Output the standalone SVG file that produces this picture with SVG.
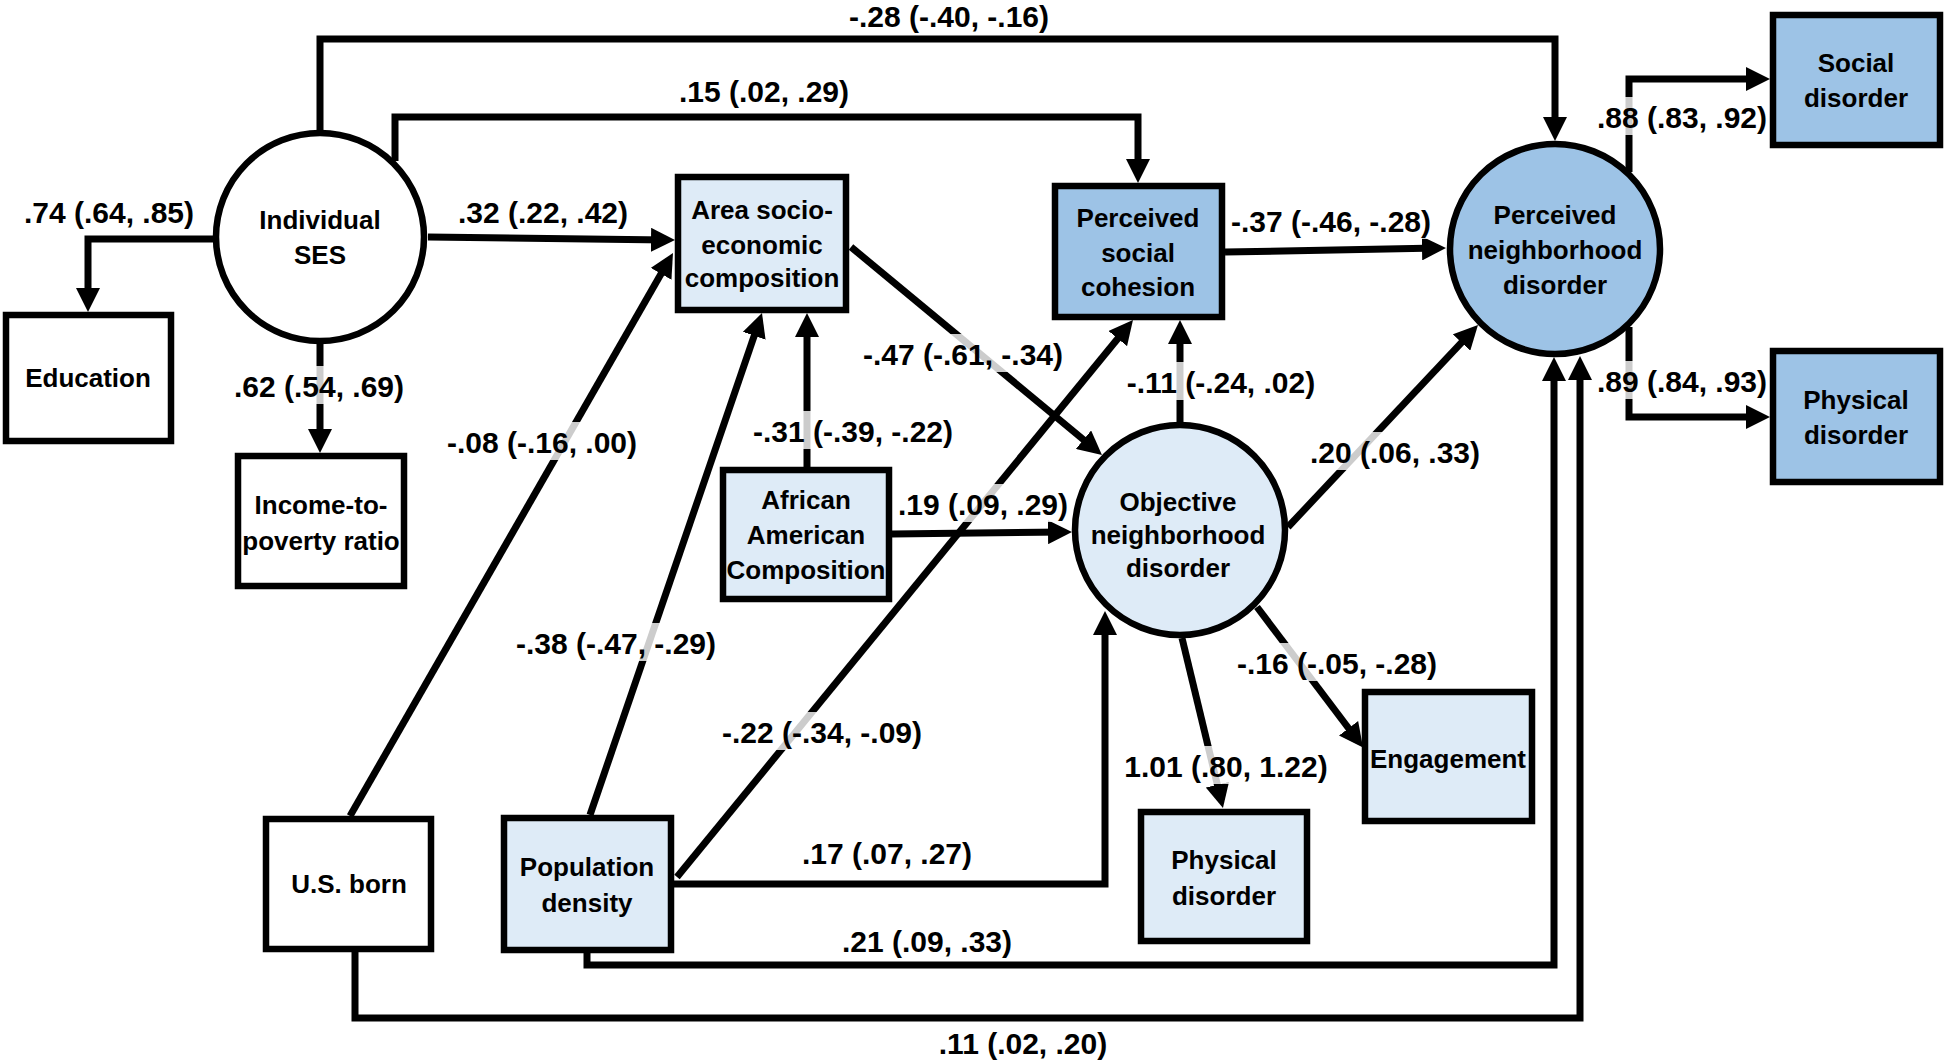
<svg xmlns="http://www.w3.org/2000/svg" width="1946" height="1062" viewBox="0 0 1946 1062">
<style>
.bg{fill:#fff}
.ln{fill:none;stroke:#000;stroke-width:7;stroke-linejoin:miter}
.arr{marker-end:url(#ah)}
.box{stroke:#000;stroke-width:6.5}
.w{fill:#fff}
.lb{fill:#DEEBF7}
.mb{fill:#9DC3E6}
.nt{font-family:"Liberation Sans",Arial,sans-serif;font-weight:bold;font-size:26px;text-anchor:middle;fill:#000}
.et{font-family:"Liberation Sans",Arial,sans-serif;font-weight:bold;font-size:30px;text-anchor:middle;fill:#000}
.halo{fill:#fff;fill-opacity:0.8}
</style>
<defs>
<marker id="ah" markerUnits="userSpaceOnUse" viewBox="0 0 24 24" markerWidth="24" markerHeight="24" refX="16" refY="12" orient="auto">
<path d="M0,0 L24,12 L0,24 z" fill="#000"/>
</marker>
</defs>
<rect class="bg" x="0" y="0" width="1946" height="1062"/>

<g id="connectors">
<path class="ln arr" d="M214,239 H88 V304"/>
<path class="ln arr" d="M320,344 V445"/>
<path class="ln arr" d="M428,237 L667,240"/>
<path class="ln arr" d="M395,161 V117 H1138 V175"/>
<path class="ln arr" d="M320,131 V39 H1555 V133"/>
<path class="ln arr" d="M350,816 L669,260"/>
<path class="ln arr" d="M590,815 L759.4,320.6"/>
<path class="ln arr" d="M807,467 V321"/>
<path class="ln arr" d="M892,534 L1064,532"/>
<path class="ln arr" d="M851,247 L1095.8,449.9"/>
<path class="ln arr" d="M677,877 L1127.9,326.2"/>
<path class="ln arr" d="M1180,423 V328"/>
<path class="ln arr" d="M674,884 H1105 V619"/>
<path class="ln arr" d="M1225,252 L1438,248.1"/>
<path class="ln arr" d="M1288,527 L1472.5,330.8"/>
<path class="ln arr" d="M1182,638 L1221.1,800.2"/>
<path class="ln arr" d="M1257,607 L1358.2,741"/>
<path class="ln arr" d="M587,950 V965 H1554 V365"/>
<path class="ln arr" d="M355,950 V1018 H1580 V364"/>
<path class="ln arr" d="M1629,172 V79 H1762"/>
<path class="ln arr" d="M1629,327 V417 H1762"/>
</g>

<g id="edge-labels">
<text class="et" x="949" y="27">-.28 (-.40, -.16)</text>
<text class="et" x="764" y="102">.15 (.02, .29)</text>
<text class="et" x="109" y="223">.74 (.64, .85)</text>
<text class="et" x="543" y="223">.32 (.22, .42)</text>
<rect class="halo" x="234" y="366" width="170" height="38"/>
<text class="et" x="319" y="397">.62 (.54, .69)</text>
<rect class="halo" x="446" y="422" width="192" height="38"/>
<text class="et" x="542" y="453">-.08 (-.16, .00)</text>
<rect class="halo" x="515" y="623" width="202" height="38"/>
<text class="et" x="616" y="654">-.38 (-.47, -.29)</text>
<rect class="halo" x="864" y="334" width="199" height="38"/>
<text class="et" x="963" y="365">-.47 (-.61, -.34)</text>
<rect class="halo" x="753" y="411" width="200" height="38"/>
<text class="et" x="853" y="442">-.31 (-.39, -.22)</text>
<rect class="halo" x="898" y="484" width="171" height="38"/>
<text class="et" x="983" y="515">.19 (.09, .29)</text>
<rect class="halo" x="1229" y="201" width="204" height="38"/>
<text class="et" x="1331" y="232">-.37 (-.46, -.28)</text>
<rect class="halo" x="1125" y="362" width="192" height="38"/>
<text class="et" x="1221" y="393">-.11 (-.24, .02)</text>
<rect class="halo" x="1597" y="97" width="171" height="38"/>
<text class="et" x="1682" y="128">.88 (.83, .92)</text>
<rect class="halo" x="1597" y="361" width="171" height="38"/>
<text class="et" x="1682" y="392">.89 (.84, .93)</text>
<rect class="halo" x="1310" y="432" width="171" height="38"/>
<text class="et" x="1395" y="463">.20 (.06, .33)</text>
<rect class="halo" x="721" y="712" width="203" height="38"/>
<text class="et" x="822" y="743">-.22 (-.34, -.09)</text>
<text class="et" x="887" y="864">.17 (.07, .27)</text>
<rect class="halo" x="1123" y="746" width="207" height="38"/>
<text class="et" x="1226" y="777">1.01 (.80, 1.22)</text>
<rect class="halo" x="1237" y="643" width="201" height="38"/>
<text class="et" x="1337" y="674">-.16 (-.05, -.28)</text>
<text class="et" x="927" y="952">.21 (.09, .33)</text>
<text class="et" x="1023" y="1054">.11 (.02, .20)</text>
</g>

<g id="individual-ses">
<circle class="box w" cx="320" cy="237" r="104"/>
<text class="nt" x="320" y="229">Individual</text>
<text class="nt" x="320" y="264">SES</text>
</g>
<g id="education">
<rect class="box w" x="6" y="315" width="165" height="126"/>
<text class="nt" x="88" y="387">Education</text>
</g>
<g id="income-to-poverty">
<rect class="box w" x="238" y="456" width="166" height="130"/>
<text class="nt" x="321" y="514">Income-to-</text>
<text class="nt" x="321" y="550">poverty ratio</text>
</g>
<g id="us-born">
<rect class="box w" x="266" y="819" width="165" height="130"/>
<text class="nt" x="349" y="893">U.S. born</text>
</g>
<g id="population-density">
<rect class="box lb" x="504" y="818" width="167" height="132"/>
<text class="nt" x="587" y="876">Population</text>
<text class="nt" x="587" y="912">density</text>
</g>
<g id="area-ses">
<rect class="box lb" x="678" y="177" width="168" height="133"/>
<text class="nt" x="762" y="219">Area socio-</text>
<text class="nt" x="762" y="254">economic</text>
<text class="nt" x="762" y="287">composition</text>
</g>
<g id="african-american">
<rect class="box lb" x="723" y="470" width="166" height="129"/>
<text class="nt" x="806" y="509">African</text>
<text class="nt" x="806" y="544">American</text>
<text class="nt" x="806" y="579">Composition</text>
</g>
<g id="social-cohesion">
<rect class="box mb" x="1055" y="186" width="167" height="131"/>
<text class="nt" x="1138" y="227">Perceived</text>
<text class="nt" x="1138" y="262">social</text>
<text class="nt" x="1138" y="296">cohesion</text>
</g>
<g id="objective-disorder">
<circle class="box lb" cx="1180" cy="530" r="105"/>
<text class="nt" x="1178" y="511">Objective</text>
<text class="nt" x="1178" y="544">neighborhood</text>
<text class="nt" x="1178" y="577">disorder</text>
</g>
<g id="physical-disorder-obj">
<rect class="box lb" x="1141" y="812" width="166" height="129"/>
<text class="nt" x="1224" y="869">Physical</text>
<text class="nt" x="1224" y="905">disorder</text>
</g>
<g id="engagement">
<rect class="box lb" x="1365" y="692" width="167" height="129"/>
<text class="nt" x="1448" y="768">Engagement</text>
</g>
<g id="perceived-disorder">
<circle class="box mb" cx="1555" cy="249" r="105"/>
<text class="nt" x="1555" y="224">Perceived</text>
<text class="nt" x="1555" y="259">neighborhood</text>
<text class="nt" x="1555" y="294">disorder</text>
</g>
<g id="social-disorder">
<rect class="box mb" x="1773" y="15" width="167" height="130"/>
<text class="nt" x="1856" y="72">Social</text>
<text class="nt" x="1856" y="107">disorder</text>
</g>
<g id="physical-disorder-perc">
<rect class="box mb" x="1773" y="351" width="167" height="131"/>
<text class="nt" x="1856" y="409">Physical</text>
<text class="nt" x="1856" y="444">disorder</text>
</g>
</svg>
